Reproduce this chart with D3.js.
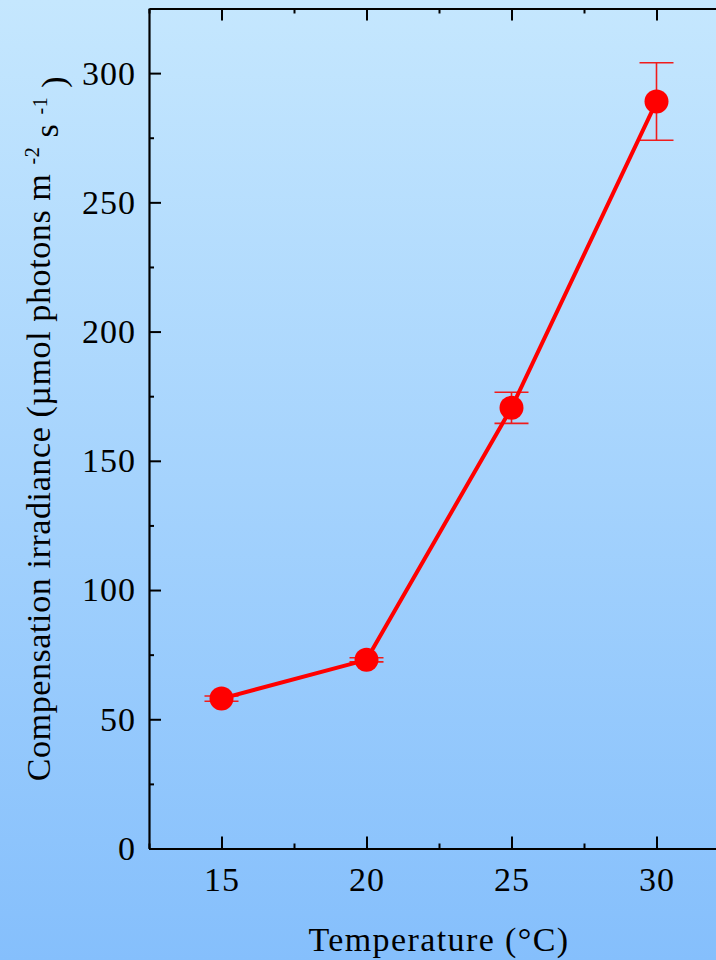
<!DOCTYPE html>
<html>
<head>
<meta charset="utf-8">
<script src="https://cdn.jsdelivr.net/npm/d3@7/dist/d3.min.js"></script>
<style>
  html, body { margin: 0; padding: 0; overflow: hidden; }
  body { width: 716px; height: 960px; }
  svg { display: block; }
  text { font-family: "Liberation Serif", "Times New Roman", serif; fill: #000; }
</style>
</head>
<body>
<svg id="chart" width="716" height="960"></svg>
<script>
// Compensation irradiance vs. growth temperature
const temperatures = [15, 20, 25, 30];
const irradiance   = [58, 73, 170.5, 289];
const errors       = [1, 0.8, 6, 15];
const xTicks = [15, 20, 25, 30];
const yTicks = [0, 50, 100, 150, 200, 250, 300];

const W = 716, H = 960;
const margin = { left: 149, top: 8.5, right: -13, bottom: 111.5 };
const plotW = W - margin.left - margin.right;
const plotH = H - margin.top - margin.bottom;

const svg = d3.select("#chart");

// soft vertical sky-blue background
const defs = svg.append("defs");
const grad = defs.append("linearGradient")
  .attr("id", "bg").attr("x1", 0).attr("y1", 0).attr("x2", 0).attr("y2", 1);
grad.append("stop").attr("offset", "0%").attr("stop-color", "#c5e7fe");
grad.append("stop").attr("offset", "100%").attr("stop-color", "#85bffc");
svg.append("rect").attr("width", W).attr("height", H).attr("fill", "url(#bg)");

const g = svg.append("g").attr("transform", `translate(${margin.left},${margin.top})`);

const x = d3.scaleLinear().domain([12.5, 32.5]).range([0, plotW]);
const y = d3.scaleLinear().domain([0, 325]).range([plotH, 0]);

const minorX = d3.range(12.5, 32.51, 2.5).filter(v => !xTicks.includes(v));
const minorY = d3.range(25, 325, 50);

function styleAxis(sel) {
  sel.select(".domain").attr("stroke", "#000").attr("stroke-width", 2.2);
  sel.selectAll(".tick line").attr("stroke", "#000").attr("stroke-width", 2);
  sel.selectAll(".tick text").style("font-size", "34px").style("letter-spacing", "1px")
    .attr("fill", "#000");
}

// bottom axis, ticks pointing inward
g.append("g").attr("transform", `translate(0,${plotH})`)
  .call(d3.axisBottom(x).tickValues(xTicks).tickSize(-12).tickSizeOuter(0).tickPadding(18)
    .tickFormat(d3.format("d")))
  .call(styleAxis);
g.append("g").attr("transform", `translate(0,${plotH})`)
  .call(d3.axisBottom(x).tickValues(minorX).tickSize(-5).tickSizeOuter(0).tickFormat(""))
  .call(styleAxis).select(".domain").remove();

// top frame
g.append("g")
  .call(d3.axisTop(x).tickValues(xTicks).tickSize(-12).tickSizeOuter(0).tickFormat(""))
  .call(styleAxis);
g.append("g")
  .call(d3.axisTop(x).tickValues(minorX).tickSize(-5).tickSizeOuter(0).tickFormat(""))
  .call(styleAxis).select(".domain").remove();

// left axis
g.append("g")
  .call(d3.axisLeft(y).tickValues(yTicks).tickSize(-12).tickSizeOuter(0).tickPadding(13)
    .tickFormat(d3.format("d")))
  .call(styleAxis);
g.append("g")
  .call(d3.axisLeft(y).tickValues(minorY).tickSize(-5).tickSizeOuter(0).tickFormat(""))
  .call(styleAxis).select(".domain").remove();

// right frame
g.append("g").attr("transform", `translate(${plotW},0)`)
  .call(d3.axisRight(y).tickValues(yTicks).tickSize(-12).tickSizeOuter(0).tickFormat(""))
  .call(styleAxis);

const data = temperatures.map((t, i) => ({ t, v: irradiance[i], e: errors[i] }));

// error bars
const capHalf = 17;
const eb = g.append("g").attr("stroke", "#f01c1c").attr("stroke-width", 1.6).attr("fill", "none");
data.forEach(d => {
  eb.append("line").attr("x1", x(d.t)).attr("x2", x(d.t))
    .attr("y1", y(d.v - d.e)).attr("y2", y(d.v + d.e));
  [d.v - d.e, d.v + d.e].forEach(v => {
    eb.append("line").attr("x1", x(d.t) - capHalf).attr("x2", x(d.t) + capHalf)
      .attr("y1", y(v)).attr("y2", y(v));
  });
});

// connecting line
g.append("path").datum(data)
  .attr("fill", "none").attr("stroke", "#ff0000").attr("stroke-width", 4)
  .attr("d", d3.line().x(d => x(d.t)).y(d => y(d.v)));

// markers
g.selectAll("circle.pt").data(data).join("circle")
  .attr("class", "pt")
  .attr("cx", d => x(d.t)).attr("cy", d => y(d.v)).attr("r", 12)
  .attr("fill", "#ff0000");

// axis titles
svg.append("text")
  .attr("x", margin.left + plotW / 2).attr("y", 951)
  .attr("text-anchor", "middle").style("font-size", "34px").style("letter-spacing", "1.4px")
  .text("Temperature (°C)");

const yt = svg.append("text")
  .attr("transform", `translate(50,${margin.top + plotH / 2}) rotate(-90)`)
  .attr("text-anchor", "middle").style("font-size", "34px").style("letter-spacing", "0.6px");
yt.append("tspan").text("Compensation irradiance (µmol photons m ");
yt.append("tspan").attr("dy", "-0.55em").style("font-size", "20px").text("-2");
yt.append("tspan").attr("dy", "0.55em").text(" s ");
yt.append("tspan").attr("dy", "-0.55em").style("font-size", "20px").text("-1");
yt.append("tspan").attr("dy", "0.55em").text(" )");
</script>
</body>
</html>
